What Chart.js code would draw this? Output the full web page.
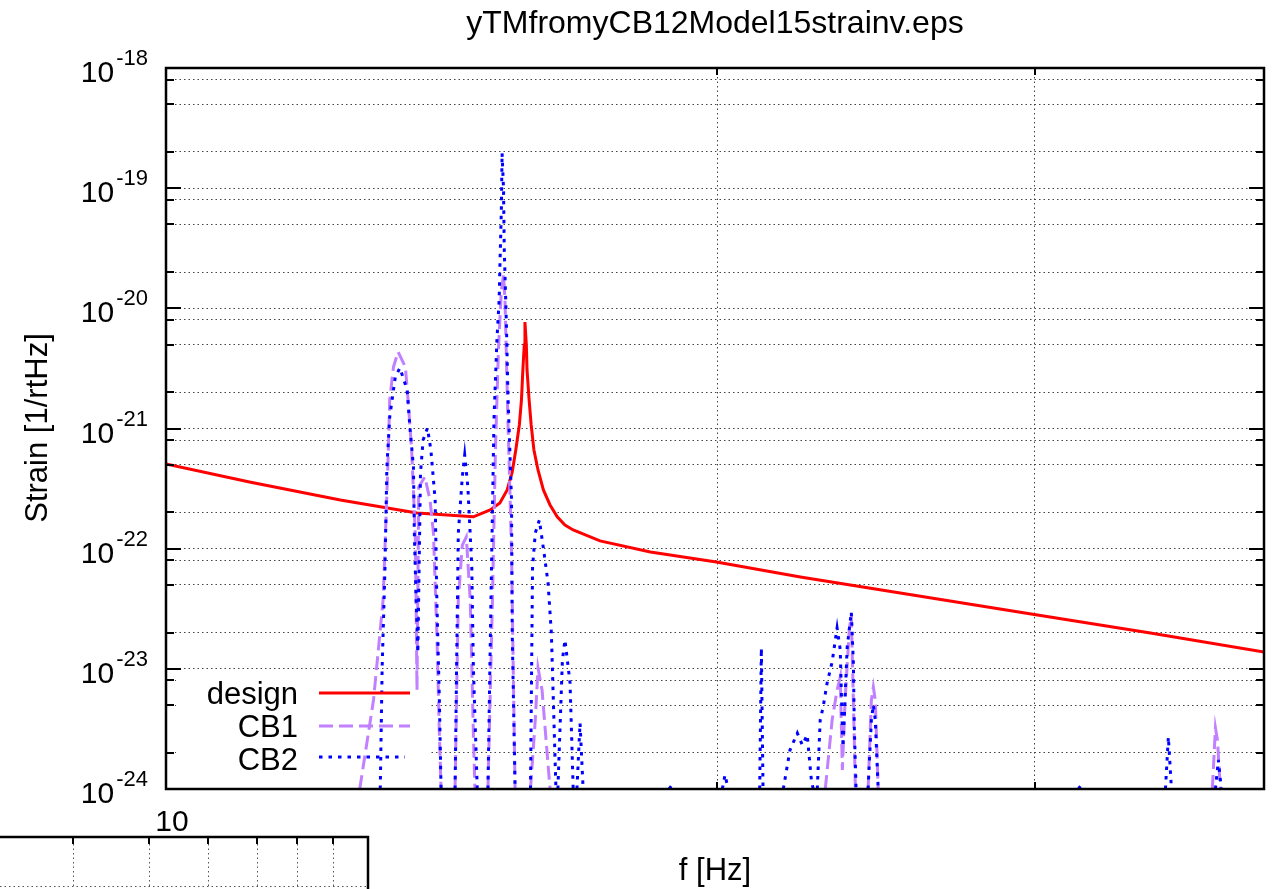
<!DOCTYPE html>
<html><head><meta charset="utf-8">
<script src="https://cdn.jsdelivr.net/npm/chart.js@4.4.1/dist/chart.umd.min.js"></script>
<style>html,body{margin:0;padding:0;background:#fff;overflow:hidden}</style>
</head><body>
<canvas id="c" width="1282" height="889"></canvas>
<script>
const chartTitle = 'yTMfromyCB12Model15strainv.eps';
const xTitle = 'f [Hz]';
const yTitle = 'Strain [1/rtHz]';
const seriesNames = ['design', 'CB1', 'CB2'];

const designFreq   = [3.00, 3.60, 4.39, 5.19, 5.87, 6.09, 6.22, 6.32, 6.39, 6.44, 6.49, 6.52, 6.54, 6.56, 6.57, 6.59, 6.60, 6.63, 6.66, 6.70, 6.76, 6.84, 6.94, 7.05, 7.17, 7.30, 7.74, 8.64, 9.98, 11.99, 14.91, 20.12, 25.75, 33.0];
const designStrain = [5.07e-22, 3.59e-22, 2.54e-22, 1.98e-22, 1.84e-22, 2.10e-22, 2.40e-22, 3.08e-22, 4.35e-22, 6.62e-22, 1.07e-21, 1.73e-21, 3.07e-21, 4.95e-21, 7.69e-21, 4.95e-21, 3.07e-21, 1.73e-21, 1.07e-21, 6.62e-22, 4.52e-22, 3.08e-22, 2.31e-22, 1.84e-22, 1.57e-22, 1.43e-22, 1.16e-22, 9.38e-23, 7.75e-23, 5.81e-23, 4.28e-23, 2.81e-23, 1.99e-23, 1.38e-23];

const cb1Freq = [
  4.58, 4.72, 4.82, 4.87, 4.89, 4.93, 4.98, 5.06, 5.09, 5.13, 5.17, 5.18, 5.19, 5.21, 5.28, 5.34, 5.38, 5.42, 5.45, 5.47, 5.47,
  5.64, 5.68, 5.73, 5.78, 5.83, 5.87, 5.89, 5.89,
  6.06, 6.12, 6.16, 6.20, 6.24, 6.27, 6.29, 6.33, 6.38, 6.40, 6.43, 6.43,
  6.65, 6.72, 6.76, 6.82, 6.88, 6.94, 6.94,
  12.66, 12.85, 12.99, 13.08, 13.14, 13.22, 13.34, 13.40, 13.46, 13.52, 13.52,
  13.90, 14.00, 14.06, 14.12, 14.21, 14.21,
  29.48, 29.68, 29.81, 30.0];
const cb1Strain = [
  1e-24, 5.51e-24, 3.74e-23, 4.79e-22, 1.73e-21, 3.25e-21, 4.34e-21, 3.25e-21, 1.73e-21, 6.62e-22, 1.35e-22, 3.74e-23, 6.67e-24, 3.26e-22, 3.95e-22, 2.54e-22, 1.35e-22, 1.99e-23, 2.92e-24, 1e-24, null,
  1e-24, 3.74e-23, 1.07e-22, 1.25e-22, 3.74e-23, 2.92e-24, 1e-24, null,
  1e-24, 3.74e-23, 6.62e-22, 4.50e-21, 1.42e-20, 1.89e-20, 1.17e-20, 1.18e-21, 9.75e-23, 1.44e-23, 1e-24, null,
  1e-24, 3.75e-24, 1.02e-23, 6.67e-24, 2.56e-24, 1e-24, null,
  1e-24, 3.75e-24, 6.67e-24, 8.55e-24, 1.44e-24, 5.51e-24, 2.11e-23, 2.81e-23, 5.51e-24, 1e-24, null,
  1e-24, 5.51e-24, 7.06e-24, 5.51e-24, 1e-24, null,
  1e-24, 3.22e-24, 2.56e-24, 1e-24];

const cb2Freq = [
  4.79, 4.81, 4.84, 4.86, 4.89, 4.95, 5.00, 5.08, 5.11, 5.15, 5.16, 5.18, 5.20, 5.23, 5.26, 5.31, 5.35, 5.40, 5.42, 5.45, 5.47, 5.47,
  5.64, 5.68, 5.73, 5.76, 5.80, 5.85, 5.87, 5.92, 5.92,
  6.06, 6.10, 6.14, 6.18, 6.21, 6.22, 6.24, 6.25, 6.27, 6.28, 6.31, 6.33, 6.38, 6.39, 6.43, 6.43,
  6.65, 6.68, 6.72, 6.78, 6.85, 6.91, 6.96, 6.99, 7.03, 7.03,
  7.06, 7.13, 7.17, 7.25, 7.30, 7.30,
  7.36, 7.41, 7.46, 7.46,
  9.00, 9.06, 9.12, 9.12,
  10.11, 10.17, 10.24, 10.24,
  10.97, 11.01, 11.05, 11.05,
  11.55, 11.72, 11.91, 12.04, 12.17, 12.28, 12.33, 12.33,
  12.44, 12.52, 12.60, 12.71, 12.85, 12.99, 13.08, 13.14, 13.16, 13.28, 13.40, 13.46, 13.49, 13.54, 13.54,
  13.90, 14.00, 14.06, 14.12, 14.21, 14.21,
  22.00, 22.15, 22.29, 22.29,
  26.61, 26.78, 26.96, 26.96,
  29.68, 29.87, 30.06];
const cb2Strain = [
  1e-24, 1.04e-23, 7.04e-23, 4.79e-22, 1.25e-21, 2.69e-21, 3.19e-21, 2.09e-21, 1.03e-21, 4.79e-22, 1.35e-22, 3.74e-23, 1.36e-23, 4.27e-22, 8.02e-22, 1.01e-21, 6.62e-22, 2.54e-22, 3.74e-23, 5.51e-24, 1e-24, null,
  1e-24, 1.35e-22, 3.95e-22, 6.02e-22, 3.26e-22, 7.04e-23, 1.04e-23, 1e-24, null,
  1e-24, 3.74e-23, 1.18e-21, 5.45e-21, 1.17e-20, 2.21e-20, 6.58e-20, 1.96e-19, 9.66e-20, 3.06e-20, 7.0e-21, 1.97e-21, 2.54e-22, 1.99e-23, 1e-24, null,
  1e-24, 7.04e-23, 1.35e-22, 1.73e-22, 9.20e-23, 5.18e-23, 1.99e-23, 5.51e-24, 1e-24, null,
  1e-24, 1.18e-23, 1.74e-23, 7.62e-24, 1e-24, null,
  1e-24, 3.54e-24, 1e-24, null,
  1e-24, 1.08e-24, 1e-24, null,
  1e-24, 1.31e-24, 1e-24, null,
  1e-24, 1.49e-23, 1e-24, null,
  1e-24, 2.11e-24, 2.92e-24, 2.32e-24, 2.82e-24, 1.19e-24, 1e-24, null,
  1e-24, 3.75e-24, 4.81e-24, 7.62e-24, 1.14e-23, 2.19e-23, 1.44e-23, 3.10e-24, 2.24e-24, 1.52e-23, 2.97e-23, 1.12e-23, 3.10e-24, 1e-24, null,
  1e-24, 3.75e-24, 5.01e-24, 3.75e-24, 1e-24, null,
  1e-24, 1.08e-24, 1e-24, null,
  1e-24, 2.71e-24, 1e-24, null,
  1e-24, 1.75e-24, 1e-24];

const xMin = 3, xMax = 33;
const xGridValues = [10, 20];
const yDecades = [-18, -19, -20, -21, -22, -23, -24];
const yMinorMantissas = [2, 5, 8];
const insetTickValues = [3, 4, 5, 6, 7, 8];
const insetLabel = '10';

const yTickValues = [];
yDecades.forEach(n => {
  yTickValues.push(Number('1e' + n));
  if (n < -18) yMinorMantissas.forEach(m => yTickValues.push(Number(m + 'e' + n)));
});

const colors = ['#ff0000', '#c080ff', '#0000ff'];
const dashes = [[], [14, 6], [3.5, 6]];
const FONT = '"Liberation Sans", Arial, Helvetica, sans-serif';

function pts(fr, st) { return fr.map((f, i) => ({ x: f, y: st[i] })); }

const legendBox = { x1: 176, x2: 430, top: 672 };

const gnuplotPlugin = {
  id: 'gnuplotLook',
  beforeDatasetsDraw(chart) {
    const ctx = chart.ctx, a = chart.chartArea;
    ctx.save();
    ctx.fillStyle = '#fff';
    ctx.fillRect(legendBox.x1, legendBox.top, legendBox.x2 - legendBox.x1, a.bottom - legendBox.top);
    ctx.restore();
  },
  afterDraw(chart) {
    const ctx = chart.ctx, a = chart.chartArea;
    const xs = chart.scales.x, ys = chart.scales.y;
    ctx.save();
    ctx.strokeStyle = '#000';
    ctx.lineWidth = 2;
    ctx.setLineDash([]);
    yTickValues.forEach(v => {
      const y = Math.round(ys.getPixelForValue(v));
      const major = Math.abs(Math.log10(v) - Math.round(Math.log10(v))) < 1e-6;
      const L = major ? 15 : 8;
      ctx.beginPath();
      ctx.moveTo(a.left, y); ctx.lineTo(a.left + L, y);
      ctx.moveTo(a.right, y); ctx.lineTo(a.right - L, y);
      ctx.stroke();
    });
    xGridValues.forEach(v => {
      const x = Math.round(xs.getPixelForValue(v));
      ctx.beginPath();
      ctx.moveTo(x, a.top); ctx.lineTo(x, a.top + 7);
      ctx.moveTo(x, a.bottom); ctx.lineTo(x, a.bottom - 7);
      ctx.stroke();
    });
    ctx.lineWidth = 2.5;
    ctx.strokeRect(a.left, a.top, a.right - a.left, a.bottom - a.top);

    ctx.fillStyle = '#000';
    ctx.textAlign = 'right';
    ctx.textBaseline = 'alphabetic';
    yDecades.forEach(n => {
      const y = ys.getPixelForValue(Number('1e' + n));
      const ex = String(n);
      ctx.font = '22px ' + FONT;
      const ew = ctx.measureText(ex).width;
      const right = 148;
      ctx.fillText(ex, right, y - 3);
      ctx.font = '30px ' + FONT;
      ctx.fillText('10', right - ew - 2, y + 14);
    });

    ctx.textAlign = 'center';
    ctx.font = '32px ' + FONT;
    ctx.fillText(chartTitle, (a.left + a.right) / 2, 33);
    ctx.font = '31px ' + FONT;
    ctx.fillText(xTitle, 715, 880);
    ctx.save();
    ctx.translate(47, 428);
    ctx.rotate(-Math.PI / 2);
    ctx.fillText(yTitle, 0, 0);
    ctx.restore();

    const legY = [693, 726, 757];
    const legBase = [704, 737, 770];
    ctx.font = '31px ' + FONT;
    ctx.textAlign = 'right';
    seriesNames.forEach((name, i) => {
      ctx.fillStyle = '#000';
      ctx.fillText(name, 298, legBase[i]);
      ctx.strokeStyle = colors[i];
      ctx.lineWidth = 3;
      ctx.setLineDash(dashes[i]);
      ctx.beginPath();
      ctx.moveTo(319, legY[i]); ctx.lineTo(i === 2 ? 405 : 410, legY[i]);
      ctx.stroke();
    });
    ctx.setLineDash([]);

    const ipos = v => 73 + 610 * Math.log10(v / 3);
    const iTop = 837, iRight = 368, H = chart.height;
    ctx.strokeStyle = '#000';
    ctx.lineWidth = 2.5;
    ctx.beginPath();
    ctx.moveTo(0, iTop); ctx.lineTo(iRight, iTop); ctx.lineTo(iRight, H);
    ctx.stroke();
    ctx.lineWidth = 2;
    insetTickValues.forEach(v => {
      const x = Math.round(ipos(v));
      ctx.beginPath(); ctx.moveTo(x, iTop); ctx.lineTo(x, iTop + 7); ctx.stroke();
    });
    ctx.strokeStyle = '#555';
    ctx.lineWidth = 1;
    ctx.setLineDash([1.5, 3]);
    insetTickValues.forEach(v => {
      const x = Math.round(ipos(v)) + 0.5;
      ctx.beginPath(); ctx.moveTo(x, iTop + 7); ctx.lineTo(x, H); ctx.stroke();
    });
    ctx.beginPath(); ctx.moveTo(0, 886.5); ctx.lineTo(iRight, 886.5); ctx.stroke();
    ctx.setLineDash([]);
    ctx.fillStyle = '#000';
    ctx.textAlign = 'center';
    ctx.font = '30px ' + FONT;
    ctx.fillText(insetLabel, 172, 831);
    ctx.restore();
  }
};

const gridOpts = { color: '#444', lineWidth: 1, drawTicks: false };
new Chart(document.getElementById('c'), {
  type: 'line',
  data: {
    datasets: [
      { label: seriesNames[0], data: pts(designFreq, designStrain), borderColor: colors[0], borderWidth: 3, pointRadius: 0, tension: 0, order: 2, spanGaps: false, fill: false },
      { label: seriesNames[1], data: pts(cb1Freq, cb1Strain), borderColor: colors[1], borderDash: dashes[1], borderWidth: 3, pointRadius: 0, tension: 0, order: 1, spanGaps: false, fill: false },
      { label: seriesNames[2], data: pts(cb2Freq, cb2Strain), borderColor: colors[2], borderDash: dashes[2], borderWidth: 3, pointRadius: 0, tension: 0, order: 0, spanGaps: false, fill: false }
    ]
  },
  options: {
    responsive: false,
    devicePixelRatio: 1,
    animation: false,
    layout: { padding: { left: 166, right: 18, top: 68, bottom: 100 } },
    plugins: { legend: { display: false }, tooltip: { enabled: false }, title: { display: false } },
    scales: {
      x: {
        type: 'logarithmic', min: xMin, max: xMax,
        afterBuildTicks: s => { s.ticks = xGridValues.map(v => ({ value: v })); },
        ticks: { display: false },
        grid: gridOpts,
        border: { display: false, dash: [1.5, 3] }
      },
      y: {
        type: 'logarithmic', min: 1e-24, max: 1e-18,
        afterBuildTicks: s => { s.ticks = yTickValues.map(v => ({ value: v })); },
        ticks: { display: false },
        grid: gridOpts,
        border: { display: false, dash: [1.5, 3] }
      }
    }
  },
  plugins: [gnuplotPlugin]
});
</script>
</body></html>
